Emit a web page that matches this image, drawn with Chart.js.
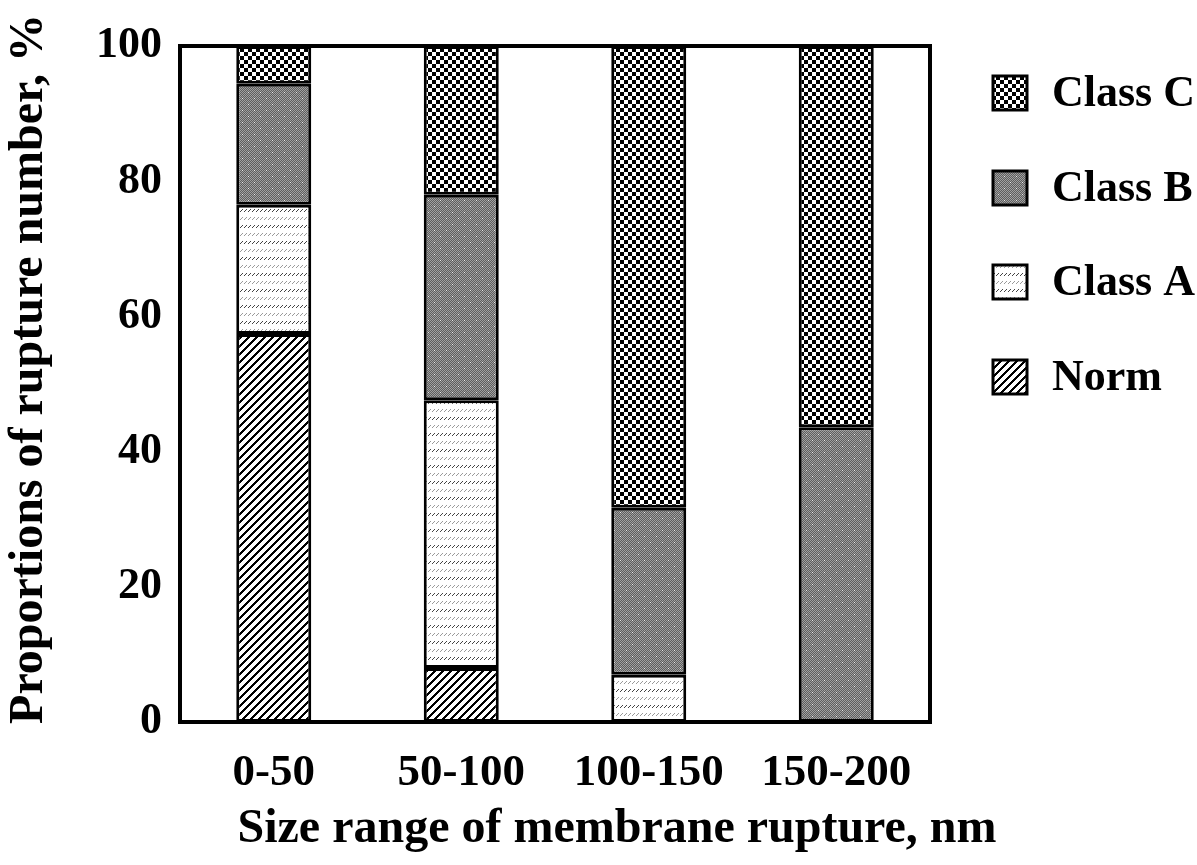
<!DOCTYPE html>
<html>
<head>
<meta charset="utf-8">
<script src="https://cdn.jsdelivr.net/npm/chart.js@4"></script>
<style>
  body { margin: 0; background: #fff; }
  #grafica { display: block; }
</style>
</head>
<body>
<canvas id="grafica" width="1197" height="865"></canvas>
<script>
// datos (%)
const rangos = ['0-50', '50-100', '100-150', '150-200'];
const norm = [57.4, 8.0, 0, 0];
const claseA = [19.1, 39.6, 7.0, 0];
const claseB = [17.9, 30.4, 24.7, 43.6];
const claseC = [5.6, 22.0, 68.3, 56.4];
const ticksY = [0, 20, 40, 60, 80, 100];

const FUENTE = '"Liberation Serif", "Times New Roman", serif';

// tramas de relleno tipo figura en blanco y negro
function trama(w, h, pintar) {
    const c = document.createElement('canvas');
    c.width = w; c.height = h;
    const g = c.getContext('2d');
    g.fillStyle = '#fff';
    g.fillRect(0, 0, w, h);
    pintar(g);
    return document.createElement('canvas').getContext('2d').createPattern(c, 'repeat');
}

const tramaNorm = trama(8, 8, g => {
    g.fillStyle = '#000';
    for (let x = 0; x < 8; x++)
        for (let y = 0; y < 8; y++)
            if ((x + y) % 8 < 3) g.fillRect(x, y, 1, 1);
});

const tramaA = trama(4, 16, g => {
    g.fillStyle = '#444';
    g.fillRect(0, 3, 1, 1); g.fillRect(1, 2, 1, 1); g.fillRect(2, 1, 1, 1);
    g.fillStyle = '#9a9a9a';
    g.fillRect(0, 11, 1, 1); g.fillRect(1, 10, 1, 1); g.fillRect(2, 9, 1, 1);
});

const tramaB = trama(12, 12, g => {
    for (let x = 0; x < 12; x++)
        for (let y = 0; y < 12; y++) {
            g.fillStyle = (x + y) % 2 ? '#5e5e5e' : '#a0a0a0';
            g.fillRect(x, y, 1, 1);
        }
    g.fillStyle = '#e6e6e6';
    g.fillRect(2, 2, 1, 1);
    g.fillRect(8, 8, 1, 1);
});

const tramaC = trama(8, 8, g => {
    g.fillStyle = '#000';
    g.fillRect(0, 0, 4, 4);
    g.fillRect(4, 4, 4, 4);
});

const series = [
    { label: 'Norm', data: norm, backgroundColor: tramaNorm },
    { label: 'Class A', data: claseA, backgroundColor: tramaA },
    { label: 'Class B', data: claseB, backgroundColor: tramaB },
    { label: 'Class C', data: claseC, backgroundColor: tramaC }
];

// marco, leyenda y titulos de los ejes
const extras = {
    id: 'extras',
    afterDatasetsDraw(chart) {
        const ctx = chart.ctx;
        const a = chart.chartArea;
        ctx.save();
        ctx.strokeStyle = '#000';
        ctx.lineWidth = 4;
        ctx.strokeRect(a.left, a.top, a.right - a.left, a.bottom - a.top);

        const ys = [93, 188, 282, 377];
        const orden = [3, 2, 1, 0];
        ctx.font = 'bold 44px ' + FUENTE;
        ctx.textBaseline = 'middle';
        ctx.textAlign = 'left';
        orden.forEach((i, k) => {
            const ds = chart.data.datasets[i];
            ctx.fillStyle = ds.backgroundColor;
            ctx.fillRect(993, ys[k] - 17, 34, 34);
            ctx.lineWidth = 3;
            ctx.strokeRect(993, ys[k] - 17, 34, 34);
            ctx.fillStyle = '#000';
            ctx.fillText(ds.label, 1052, ys[k] + 2);
        });

        ctx.textAlign = 'center';
        ctx.font = 'bold 48px ' + FUENTE;
        ctx.fillText('Size range of membrane rupture, nm', 617, 830);

        ctx.translate(30, 369);
        ctx.rotate(-Math.PI / 2);
        ctx.fillText('Proportions of rupture number, %', 0, 0);
        ctx.restore();
    }
};

new Chart(document.getElementById('grafica'), {
    type: 'bar',
    data: {
        labels: rangos,
        datasets: series.map(s => ({
            ...s,
            borderColor: '#000',
            borderWidth: 3,
            borderSkipped: false,
            barPercentage: 0.4,
            categoryPercentage: 1.0
        }))
    },
    options: {
        responsive: false,
        devicePixelRatio: 1,
        animation: false,
        layout: { padding: { top: 46, right: 267, bottom: 0, left: 0 } },
        plugins: {
            legend: { display: false },
            tooltip: { enabled: false }
        },
        scales: {
            x: {
                stacked: true,
                grid: { display: false },
                border: { display: false },
                ticks: {
                    color: '#000',
                    padding: 16,
                    font: { family: FUENTE, size: 45, weight: 'bold' }
                },
                afterFit: s => { s.height = 143; }
            },
            y: {
                stacked: true,
                min: 0,
                max: 100,
                grid: { display: false },
                border: { display: false },
                afterBuildTicks: s => { s.ticks = ticksY.map(v => ({ value: v })); },
                ticks: {
                    color: '#000',
                    padding: 10,
                    font: { family: FUENTE, size: 44, weight: 'bold' }
                },
                afterFit: s => { s.width = 180; }
            }
        }
    },
    plugins: [extras]
});
</script>
</body>
</html>
